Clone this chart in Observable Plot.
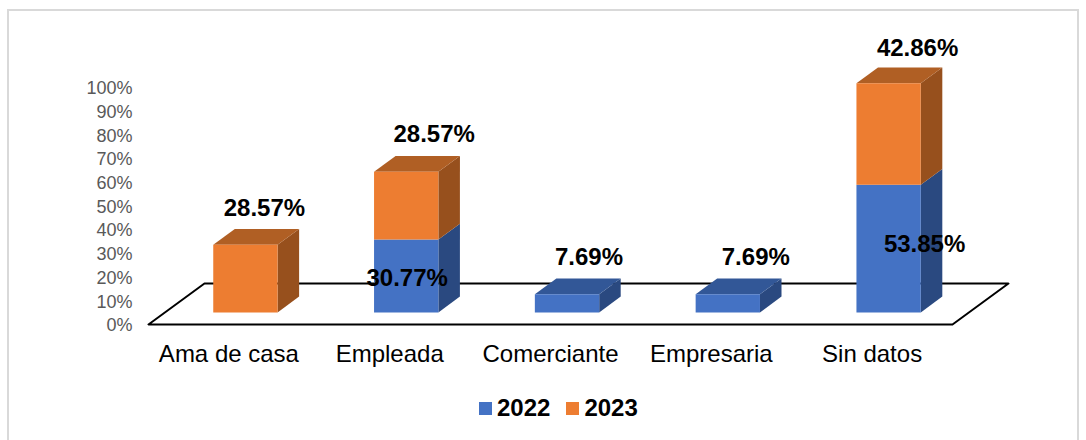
<!DOCTYPE html>
<html>
<head>
<meta charset="utf-8">
<script src="https://cdn.jsdelivr.net/npm/d3@7"></script>
<script src="https://cdn.jsdelivr.net/npm/@observablehq/plot@0.6"></script>
<style>
  html, body { margin: 0; padding: 0; background: #fff; overflow: hidden; }
  #frame { position: absolute; left: 7px; top: 9px; width: 1068px; height: 460px; border: 2px solid #d9d9d9; box-sizing: content-box; pointer-events: none; }
  #chart { position: absolute; left: 0; top: 0; width: 1086px; height: 440px; font-family: "Liberation Sans", Arial, sans-serif; }
  #chart svg { display: block; background: transparent; }
  #legend { display: flex; align-items: center; margin: 9px 0 0 479px; height: 28px; font: bold 24px "Liberation Sans", Arial, sans-serif; color: #000; }
  #legend i { display: inline-block; width: 13px; height: 13px; margin-right: 5px; }
  #legend span { display: inline-flex; align-items: center; margin-right: 16px; }
</style>
</head>
<body>
<div id="frame"></div>
<div id="chart"></div>
<script>
const categories = ["Ama de casa", "Empleada", "Comerciante", "Empresaria", "Sin datos"];
const values2022 = [0, 30.77, 7.69, 7.69, 53.85];
const values2023 = [28.57, 28.57, 0, 0, 42.86];
const seriesNames = ["2022", "2023"];
const yTicks = [0, 10, 20, 30, 40, 50, 60, 70, 80, 90, 100];

const palette = {
  "2022": {front: "#4472c4", side: "#2a4980", top: "#325797"},
  "2023": {front: "#ed7d31", side: "#97501d", top: "#b05f24"}
};

// Oblique projection: depth 1 is the back edge of the floor.
const skewX = 0.348, skewY = 17.3;
const barFront = 0.295, barBack = 0.68, halfBar = 0.2;
const project = (slot, value, depth) => ({
  x: slot + depth * skewX,
  y: value + depth * skewY
});

const floor = [[0, 0, 0], [5, 0, 0], [5, 0, 1], [0, 0, 1]].map(([s, v, d]) => project(s, v, d));

const faces = [];
const labels = [];
function addFace(id, fill, corners) {
  corners.forEach(([s, v, d]) => faces.push({id, fill, ...project(s, v, d)}));
}
// Label placement: offset in pixels; "mid" sits on the middle of the segment, otherwise on its top.
const labelPlace = {
  "2022-1": {dx: 1, dy: 2, mid: true},
  "2022-2": {dx: 22, dy: -37},
  "2022-3": {dx: 28, dy: -37},
  "2022-4": {dx: 36, dy: -4, mid: true},
  "2023-0": {dx: 19, dy: -36},
  "2023-1": {dx: 28, dy: -37},
  "2023-4": {dx: 29, dy: -35}
};
categories.forEach((cat, i) => {
  const l = i + 0.5 - halfBar, r = i + 0.5 + halfBar;
  let base = 0;
  const parts = [[seriesNames[0], values2022[i]], [seriesNames[1], values2023[i]]].filter(d => d[1] > 0);
  parts.forEach(([name, val], k) => {
    const top = base + val, c = palette[name], key = `${i}-${name}`;
    addFace(key + "-side", c.side, [[r, base, barFront], [r, base, barBack], [r, top, barBack], [r, top, barFront]]);
    if (k === parts.length - 1)
      addFace(key + "-top", c.top, [[l, top, barFront], [r, top, barFront], [r, top, barBack], [l, top, barBack]]);
    addFace(key + "-front", c.front, [[l, base, barFront], [r, base, barFront], [r, top, barFront], [l, top, barFront]]);
    const place = labelPlace[`${name}-${i}`];
    labels.push({...project(i + 0.5, place.mid ? (base + top) / 2 : top, barFront), dx: place.dx, dy: place.dy, text: val.toFixed(2) + "%"});
    base = top;
  });
});

const plot = Plot.plot({
  width: 1086,
  height: 385,
  marginLeft: 148,
  marginRight: 134,
  marginTop: 87,
  marginBottom: 61,
  style: {background: "transparent", fontFamily: "'Liberation Sans', Arial, sans-serif", overflow: "visible"},
  x: {domain: [0, 5]},
  y: {domain: [0, 100]},
  color: {type: "identity"},
  marks: [
    Plot.axisY({ticks: yTicks, tickFormat: d => d + "%", tickSize: 0, tickPadding: 16, fontSize: 18, fill: "#595959", label: null, dy: 1}),
    Plot.axisX({ticks: categories.map((_, i) => i + 0.5), tickFormat: d => categories[d - 0.5], tickSize: 0, tickPadding: 20, fontSize: 24, fill: "#000", label: null}),
    Plot.line(floor, {x: "x", y: "y", curve: "linear-closed", stroke: "#000", strokeWidth: 2, fill: "none"}),
    Plot.line(faces, {x: "x", y: "y", z: "id", fill: "fill", stroke: "none", curve: "linear-closed"}),
    ...labels.map(d => Plot.text([d], {x: "x", y: "y", text: "text", dx: d.dx, dy: d.dy, fontSize: 24, fontWeight: "bold", fill: "#000"}))
  ]
});

const legend = document.createElement("div");
legend.id = "legend";
seriesNames.forEach(name => {
  const s = document.createElement("span");
  const sw = document.createElement("i");
  sw.style.background = palette[name].front;
  s.append(sw, name);
  legend.append(s);
});
const chart = document.getElementById("chart");
chart.append(plot, legend);
</script>
</body>
</html>
